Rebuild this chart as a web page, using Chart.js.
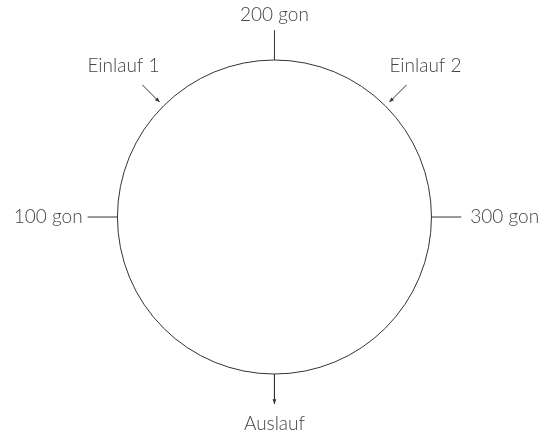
<!DOCTYPE html>
<html>
<head>
<meta charset="utf-8">
<script src="https://cdn.jsdelivr.net/npm/chart.js@4"></script>
<style>
    html, body { margin: 0; padding: 0; background: #fff; }
    #wrap { width: 542px; height: 432px; }
</style>
</head>
<body>
<div id="wrap"><canvas id="ring"></canvas></div>
<script>
// angles in gon, 0 = bottom, counted clockwise (100 left, 200 top, 300 right)
var markerLabels = ['Auslauf', '100 gon', '200 gon', '300 gon'];
var markerGon = [0, 100, 200, 300];
var inletLabels = ['Einlauf 1', 'Einlauf 2'];
var inletGon = [150, 250];
var ringRadius = 1;

var tickLen = 0.19;
var lineColor = '#333';
var textColor = '#444';
var labelFont = '300 19px Lato, "Open Sans", sans-serif';

// gon -> x/y in data units around the ring centre
function gonPoint(g, r) {
    var t = g * Math.PI / 200;
    return { x: -Math.sin(t) * r, y: -Math.cos(t) * r };
}

var datasets = [];
markerGon.forEach(function (g, i) {
    datasets.push({
        label: markerLabels[i],
        data: [gonPoint(g, ringRadius), gonPoint(g, ringRadius + tickLen)],
        arrow: i === 0
    });
});
inletGon.forEach(function (g, i) {
    datasets.push({
        label: inletLabels[i],
        data: [gonPoint(g, ringRadius + tickLen), gonPoint(g, ringRadius + 0.035)],
        arrow: true
    });
});
datasets.forEach(function (ds) {
    ds.showLine = true;
    ds.borderColor = lineColor;
    ds.borderWidth = 1;
    ds.pointRadius = 0;
    ds.fill = false;
});

// ring, arrow heads and labels
var ringPlugin = {
    id: 'ring',
    beforeDatasetsDraw: function (chart) {
        var ctx = chart.ctx, xs = chart.scales.x, ys = chart.scales.y;
        var cx = xs.getPixelForValue(0), cy = ys.getPixelForValue(0);
        var rad = xs.getPixelForValue(ringRadius) - cx;
        ctx.save();
        ctx.beginPath();
        ctx.arc(cx, cy, rad, 0, Math.PI * 2);
        ctx.strokeStyle = lineColor;
        ctx.lineWidth = 1;
        ctx.stroke();
        ctx.restore();
    },
    afterDatasetsDraw: function (chart) {
        var ctx = chart.ctx, xs = chart.scales.x, ys = chart.scales.y;
        ctx.save();
        chart.data.datasets.forEach(function (ds) {
            if (!ds.arrow) return;
            var a = ds.data[0], b = ds.data[1];
            var x0 = xs.getPixelForValue(a.x), y0 = ys.getPixelForValue(a.y);
            var x1 = xs.getPixelForValue(b.x), y1 = ys.getPixelForValue(b.y);
            var ang = Math.atan2(y1 - y0, x1 - x0);
            ctx.beginPath();
            ctx.moveTo(x1, y1);
            ctx.lineTo(x1 - 5 * Math.cos(ang - 0.4), y1 - 5 * Math.sin(ang - 0.4));
            ctx.lineTo(x1 - 5 * Math.cos(ang + 0.4), y1 - 5 * Math.sin(ang + 0.4));
            ctx.closePath();
            ctx.fillStyle = lineColor;
            ctx.fill();
        });

        ctx.font = labelFont;
        ctx.fillStyle = textColor;
        ctx.textBaseline = 'middle';
        // marker labels sit just beyond the tick ends
        markerGon.forEach(function (g, i) {
            var p = gonPoint(g, ringRadius + tickLen);
            var px = xs.getPixelForValue(p.x), py = ys.getPixelForValue(p.y);
            if (g === 100) { ctx.textAlign = 'right'; px -= 5; }
            else if (g === 300) { ctx.textAlign = 'left'; px += 9; }
            else if (g === 200) { ctx.textAlign = 'center'; py -= 15; }
            else { ctx.textAlign = 'center'; py += 20; }
            ctx.fillText(markerLabels[i], px, py);
        });
        inletGon.forEach(function (g, i) {
            var p = gonPoint(g, 1.36);
            ctx.textAlign = 'center';
            ctx.fillText(inletLabels[i], xs.getPixelForValue(p.x), ys.getPixelForValue(p.y));
        });
        ctx.restore();
    }
};

var ringCanvas = document.getElementById('ring').getContext('2d');
var ringChart = new Chart(ringCanvas, {
    type: 'scatter',
    data: { datasets: datasets },
    options: {
        responsive: true,
        maintainAspectRatio: false,
        animation: false,
        layout: { padding: 0 },
        plugins: { legend: { display: false }, tooltip: { enabled: false } },
        scales: {
            x: { display: false, min: -1.748, max: 1.704 },
            y: { display: false, min: -1.369, max: 1.382 }
        }
    },
    plugins: [ringPlugin]
});
</script>
</body>
</html>
